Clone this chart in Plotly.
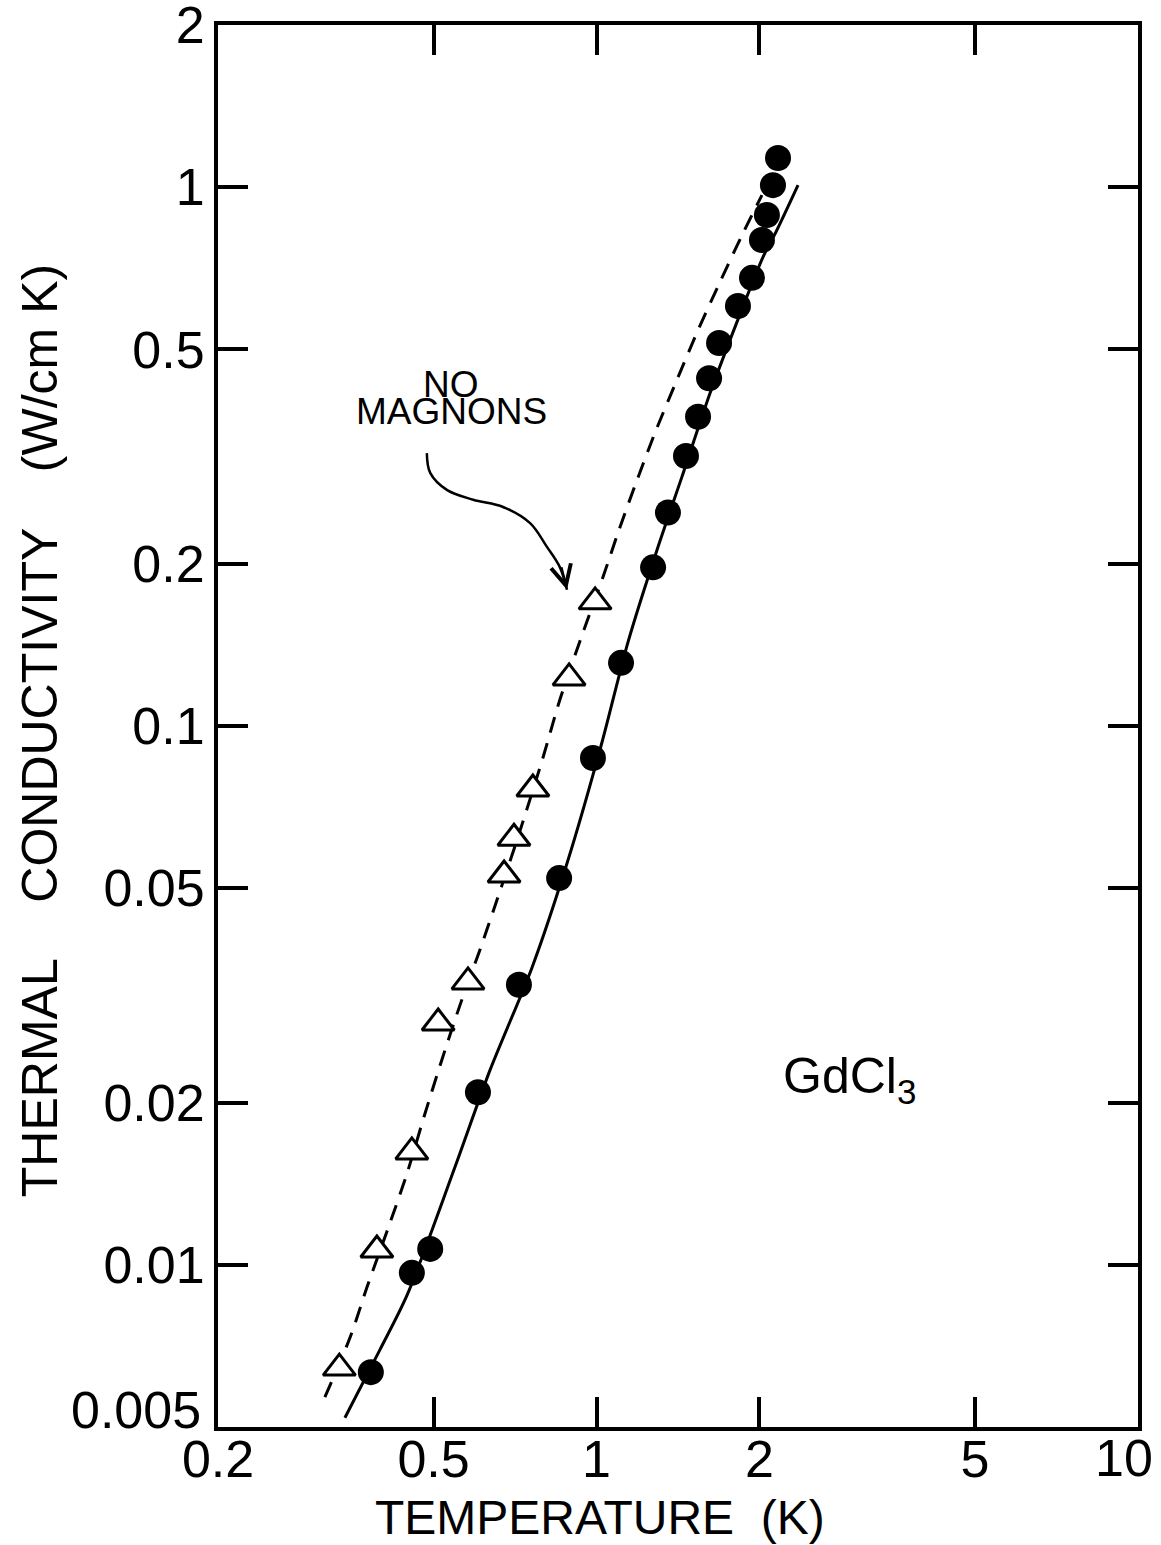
import math
import plotly.graph_objects as go

# ---- data ----
# measured thermal conductivity of GdCl3 (filled circles)
T_meas = [0.383, 0.456, 0.493, 0.604, 0.719, 0.853, 0.985, 1.110, 1.272, 1.355,
          1.463, 1.540, 1.614, 1.684, 1.825, 1.937, 2.021, 2.064, 2.118, 2.164]
K_meas = [0.00632, 0.00966, 0.0107, 0.0209, 0.0331, 0.0522, 0.0872, 0.131, 0.197, 0.249,
          0.317, 0.375, 0.442, 0.514, 0.602, 0.679, 0.798, 0.888, 1.009, 1.133]

# "no magnons" values (open triangles)
T_nomag = [0.335, 0.393, 0.456, 0.510, 0.579, 0.675, 0.704, 0.763, 0.890, 0.994]
K_nomag = [0.00643, 0.01065, 0.0162, 0.0281, 0.0335, 0.0529, 0.0619, 0.0764, 0.1228, 0.170]

# solid curve through measured points
T_solid = [0.343, 0.398, 0.447, 0.548, 0.636, 0.760, 0.886, 1.024, 1.143, 1.293,
           1.438, 1.621, 1.802, 2.030, 2.154, 2.356]
K_solid = [0.0052, 0.00695, 0.00879, 0.0152, 0.0230, 0.0356, 0.0564, 0.0934, 0.143, 0.212,
           0.290, 0.415, 0.550, 0.742, 0.833, 1.009]

# dashed curve (no magnons)
T_dash = [0.315, 0.351, 0.377, 0.416, 0.447, 0.480, 0.518, 0.560, 0.609, 0.650, 0.713,
          0.796, 0.856, 0.944, 1.028, 1.100, 1.188, 1.288, 1.408, 1.540, 1.698, 1.857, 2.021]
K_dash = [0.00568, 0.00735, 0.0091, 0.0120, 0.0148, 0.0188, 0.0240, 0.0304, 0.0384, 0.0465,
          0.0614, 0.0872, 0.112, 0.149, 0.189, 0.231, 0.286, 0.354, 0.439, 0.543, 0.673,
          0.815, 0.967]

# curved pointer from the "NO MAGNONS" label
T_arrow = [0.486, 0.493, 0.530, 0.592, 0.672, 0.754, 0.810, 0.856, 0.882]
K_arrow = [0.321, 0.295, 0.274, 0.263, 0.255, 0.238, 0.215, 0.197, 0.179]

x_ticks = [0.2, 0.5, 1, 2, 5, 10]
x_ticktext = ["0.2", "0.5", "1", "2", "5", "10"]
y_ticks = [0.005, 0.01, 0.02, 0.05, 0.1, 0.2, 0.5, 1, 2]
y_ticktext = ["0.005", "0.01", "0.02", "0.05", "0.1", "0.2", "0.5", "1", "2"]

FONT = "Liberation Sans"
NB = "\u00a0"
EPS = 1e-4

fig = go.Figure()

fig.add_trace(go.Scatter(x=T_dash, y=K_dash, mode="lines",
                         line=dict(color="black", width=3, dash="16px,11px",
                                   shape="spline", smoothing=0.8),
                         showlegend=False, hoverinfo="skip"))
fig.add_trace(go.Scatter(x=T_solid, y=K_solid, mode="lines",
                         line=dict(color="black", width=3, shape="spline", smoothing=0.8),
                         showlegend=False, hoverinfo="skip"))
fig.add_trace(go.Scatter(x=T_arrow, y=K_arrow, mode="lines",
                         line=dict(color="black", width=2.5, shape="spline"),
                         showlegend=False, hoverinfo="skip"))
fig.add_trace(go.Scatter(x=T_nomag, y=K_nomag, mode="markers",
                         marker=dict(symbol="triangle-up", size=28, color="white",
                                     line=dict(color="black", width=3)),
                         showlegend=False))
fig.add_trace(go.Scatter(x=T_meas, y=K_meas, mode="markers",
                         marker=dict(symbol="circle", size=26, color="black",
                                     line=dict(width=0)),
                         showlegend=False))

# arrow head at the end of the curved pointer
fig.add_annotation(x=math.log10(T_arrow[-1]), y=math.log10(K_arrow[-1]),
                   xref="x", yref="y", ax=-6, ay=-24, axref="pixel", ayref="pixel",
                   text="", showarrow=True, arrowhead=5, arrowsize=1.6,
                   arrowwidth=2.5, arrowcolor="black")

fig.add_annotation(x=math.log10(0.539), y=math.log10(0.431), xref="x", yref="y",
                   text="NO", showarrow=False,
                   font=dict(family=FONT, size=37, color="black"))
fig.add_annotation(x=math.log10(0.539), y=math.log10(0.383), xref="x", yref="y",
                   text="MAGNONS", showarrow=False,
                   font=dict(family=FONT, size=37, color="black"))
fig.add_annotation(x=math.log10(2.93), y=math.log10(0.0221), xref="x", yref="y",
                   text="GdCl<sub>3</sub>", showarrow=False,
                   font=dict(family=FONT, size=50, color="black"))

# corner tick labels: in the original the lowest y label sits just above its tick
# and the last x label is pulled in from the page edge, so they are placed by hand
fig.add_annotation(x=-0.0163, y=0.0121, xref="paper", yref="paper",
                   text=y_ticktext[0], showarrow=False,
                   xanchor="right", yanchor="middle",
                   font=dict(family=FONT, size=52, color="black"))
fig.add_annotation(x=1.019, y=-0.0221, xref="paper", yref="paper",
                   text=x_ticktext[-1], showarrow=False,
                   xanchor="right", yanchor="middle",
                   font=dict(family=FONT, size=52, color="black"))
x_ticklabels = x_ticktext[:-1] + [""]
y_ticklabels = [""] + y_ticktext[1:]

# axis titles
fig.add_annotation(x=0.415, y=-0.0642, xref="paper", yref="paper",
                   text="TEMPERATURE" + NB * 2 + "(K)", showarrow=False,
                   xanchor="center", yanchor="middle",
                   font=dict(family=FONT, size=48, color="black"))
fig.add_annotation(x=-0.1935, y=0.497, xref="paper", yref="paper",
                   text="THERMAL" + NB * 4 + "CONDUCTIVITY" + NB * 4 + "(W/cm" + NB + "K)",
                   textangle=-90, showarrow=False,
                   xanchor="center", yanchor="middle",
                   font=dict(family=FONT, size=50, color="black"))

axis_common = dict(
    type="log", showgrid=False, zeroline=False,
    showline=True, linecolor="black", linewidth=4, mirror="ticks",
    ticks="inside", ticklen=30, tickwidth=4, tickcolor="black",
    ticklabeloverflow="allow",
    tickfont=dict(family=FONT, size=52, color="black"),
)

fig.update_xaxes(**axis_common, range=[math.log10(0.2) - EPS, 1 + EPS],
                 tickvals=x_ticks, ticktext=x_ticklabels, ticklabelstandoff=-16)
fig.update_yaxes(**axis_common, range=[math.log10(0.005) - EPS, math.log10(2) + EPS],
                 tickvals=y_ticks, ticktext=y_ticklabels, ticklabelstandoff=-1)

fig.update_layout(
    width=1161, height=1545,
    margin=dict(l=218, r=23, t=25, b=118, autoexpand=False),
    paper_bgcolor="white", plot_bgcolor="white",
    showlegend=False,
)

fig.write_html("out.html")
